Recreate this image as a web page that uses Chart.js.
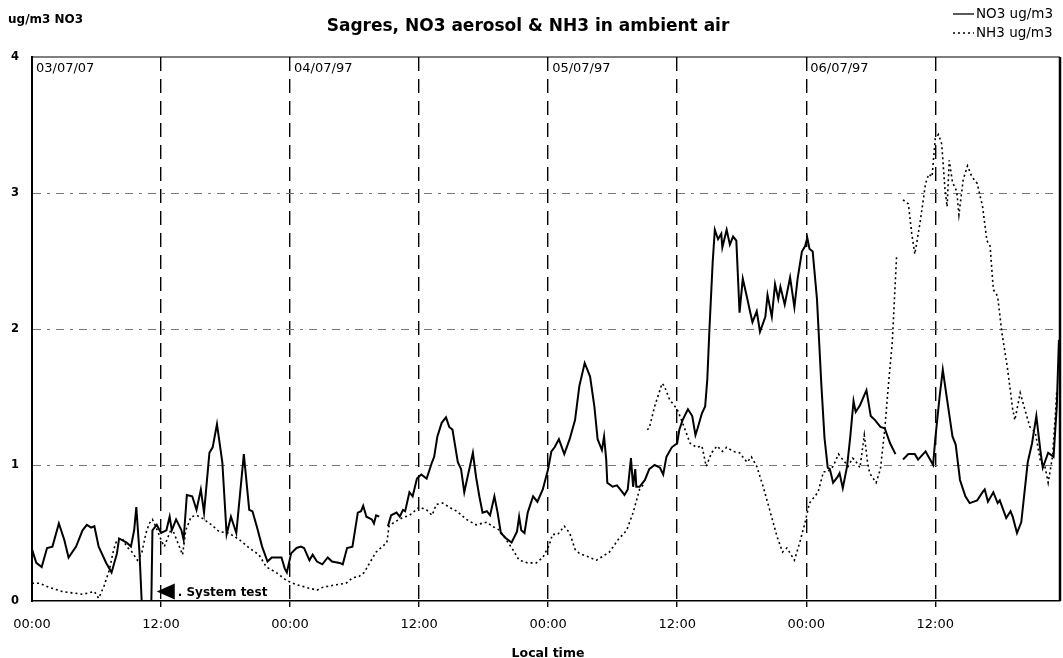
<!DOCTYPE html>
<html>
<head>
<meta charset="utf-8">
<title>Sagres, NO3 aerosol & NH3 in ambient air</title>
<script src="https://cdn.jsdelivr.net/npm/chart.js@4.4.1/dist/chart.umd.min.js"></script>
<style>
    html, body { margin: 0; padding: 0; background: #fff; }
    #wrap { width: 1063px; height: 658px; }
</style>
</head>
<body>
<div id="wrap"><canvas id="airChart" width="1063" height="658"></canvas></div>
<script>
// hours since 03/07 00:00 local time, values in ug/m3 (null = no data)
const no3Hours = [
    0.0, 0.4, 0.9, 1.4, 1.9, 2.5, 3.0, 3.4, 4.1, 4.7,
    5.1, 5.5, 5.8, 6.2, 6.9, 7.4, 7.9, 8.1, 8.8, 9.2,
    9.5, 9.7, 10.0, 10.2, 11.1, 11.2, 11.6, 12.0, 12.5, 12.8,
    13.0, 13.4, 13.9, 14.1, 14.4, 14.9, 15.3, 15.7, 16.0, 16.5,
    16.8, 17.2, 17.7, 18.1, 18.5, 19.0, 19.7, 20.2, 20.5, 20.9,
    21.4, 21.9, 22.3, 23.2, 23.5, 23.7, 24.1, 24.6, 25.0, 25.3,
    25.8, 26.1, 26.5, 27.0, 27.5, 27.9, 28.6, 28.9, 29.3, 29.8,
    30.3, 30.6, 30.8, 31.1, 31.6, 31.8, 32.0, 32.3, 32.7, 33.1,
    33.4, 33.9, 34.2, 34.5, 34.7, 35.1, 35.4, 35.8, 36.2, 36.7,
    37.2, 37.4, 37.7, 38.1, 38.5, 38.8, 39.1, 39.6, 39.9, 40.2,
    40.5, 41.0, 41.3, 41.6, 41.9, 42.3, 42.6, 43.0, 43.3, 43.6,
    44.1, 44.6, 45.1, 45.3, 45.5, 45.8, 46.1, 46.6, 47.0, 47.5,
    48.0, 48.3, 48.6, 49.0, 49.5, 50.0, 50.5, 50.9, 51.4, 51.9,
    52.3, 52.6, 53.0, 53.2, 53.4, 53.5, 54.0, 54.4, 54.7, 55.1,
    55.4, 55.7, 55.9, 56.1, 56.2, 56.5, 57.0, 57.4, 57.9, 58.4,
    58.7, 59.0, 59.5, 60.0, 60.2, 60.5, 61.0, 61.4, 61.7, 61.9,
    62.3, 62.6, 62.8, 63.0, 63.3, 63.5, 63.8, 64.1, 64.2, 64.6,
    64.9, 65.2, 65.5, 65.8, 66.1, 66.5, 66.8, 67.0, 67.4, 67.7,
    68.2, 68.4, 68.8, 69.1, 69.4, 69.6, 70.0, 70.5, 70.9, 71.2,
    71.6, 71.9, 72.1, 72.3, 72.6, 73.0, 73.4, 73.7, 74.0, 74.2,
    74.5, 74.9, 75.1, 75.4, 75.8, 76.1, 76.4, 76.6, 77.0, 77.6,
    78.0, 78.4, 78.9, 79.3, 79.8, 80.3, 80.6, 81.0, 81.5, 82.1,
    82.4, 83.1, 83.8, 84.0, 84.4, 84.7, 85.1, 85.6, 85.9, 86.3,
    86.8, 87.2, 87.9, 88.4, 88.6, 88.9, 89.4, 89.8, 90.0, 90.6,
    91.0, 91.2, 91.6, 92.0, 92.6, 93.0, 93.4, 93.8, 94.0, 94.5,
    95.0, 95.3, 95.5
];
const no3Values = [
    0.38, 0.28, 0.25, 0.39, 0.40, 0.57, 0.45, 0.32, 0.40, 0.52,
    0.56, 0.54, 0.55, 0.40, 0.28, 0.21, 0.35, 0.46, 0.43, 0.40,
    0.52, 0.69, 0.35, 0.00, 0.00, 0.52, 0.56, 0.50, 0.52, 0.62,
    0.52, 0.60, 0.52, 0.45, 0.78, 0.77, 0.67, 0.82, 0.65, 1.09,
    1.13, 1.30, 1.02, 0.49, 0.62, 0.50, 1.08, 0.67, 0.66, 0.55,
    0.40, 0.29, 0.32, 0.32, 0.24, 0.21, 0.35, 0.39, 0.40, 0.39,
    0.30, 0.34, 0.29, 0.27, 0.32, 0.29, 0.28, 0.27, 0.39, 0.40,
    0.65, 0.66, 0.70, 0.62, 0.60, 0.57, 0.63, 0.62, null, 0.55,
    0.63, 0.65, 0.62, 0.67, 0.66, 0.80, 0.77, 0.90, 0.93, 0.90,
    1.02, 1.06, 1.21, 1.31, 1.35, 1.28, 1.26, 1.02, 0.97, 0.80,
    0.91, 1.09, 0.91, 0.77, 0.65, 0.66, 0.63, 0.77, 0.65, 0.50,
    0.46, 0.43, 0.51, 0.62, 0.52, 0.50, 0.65, 0.77, 0.73, 0.82,
    0.97, 1.10, 1.13, 1.19, 1.08, 1.19, 1.33, 1.58, 1.75, 1.65,
    1.43, 1.19, 1.11, 1.21, 1.04, 0.87, 0.84, 0.85, 0.82, 0.78,
    0.82, 1.05, 0.84, 0.97, 0.84, 0.84, 0.89, 0.97, 1.00, 0.98,
    0.93, 1.06, 1.13, 1.16, 1.26, 1.33, 1.41, 1.36, 1.22, 1.27,
    1.38, 1.43, 1.63, 2.00, 2.49, 2.73, 2.66, 2.70, 2.60, 2.73,
    2.62, 2.68, 2.65, 2.12, 2.37, 2.23, 2.12, 2.05, 2.13, 1.98,
    2.09, 2.25, 2.09, 2.33, 2.22, 2.31, 2.18, 2.38, 2.16, 2.37,
    2.57, 2.61, 2.67, 2.59, 2.57, 2.22, 1.60, 1.20, 0.98, 0.97,
    0.87, 0.91, 0.94, 0.83, 0.99, 1.21, 1.47, 1.39, 1.44, 1.55,
    1.36, 1.33, 1.28, 1.27, 1.16, 1.08, null, 1.04, 1.08, 1.08,
    1.04, 1.10, 1.00, 1.19, 1.50, 1.70, 1.48, 1.21, 1.15, 0.89,
    0.77, 0.72, 0.74, 0.80, 0.82, 0.73, 0.80, 0.72, 0.74, 0.61,
    0.66, 0.62, 0.50, 0.58, 1.02, 1.16, 1.36, 1.09, 0.98, 1.09,
    1.06, 1.43, 1.92
];

const nh3Hours = [
    0.0, 0.7, 1.6, 2.8, 3.7, 4.7, 5.3, 5.8, 6.2, 6.7,
    7.2, 7.6, 7.9, 8.4, 8.8, 9.3, 9.8, 10.2, 10.6, 10.9,
    11.2, 11.5, 12.0, 12.3, 12.6, 13.0, 13.4, 14.0, 14.3, 14.8,
    15.3, 15.8, 16.7, 17.4, 18.3, 19.3, 20.2, 21.1, 21.8, 22.7,
    23.7, 24.6, 25.5, 26.5, 27.0, 28.3, 29.2, 29.8, 30.4, 30.9,
    31.4, 32.0, 33.0, 33.2, 33.7, 34.4, 35.1, 36.0, 36.7, 37.2,
    37.6, 38.2, 38.8, 39.5, 40.4, 41.3, 42.3, 42.8, 43.5, 44.1,
    44.7, 45.3, 46.1, 46.9, 47.5, 48.1, 48.4, 48.9, 49.5, 50.0,
    50.5, 50.9, 52.5, 53.7, 54.5, 55.3, 55.9, 56.5, 57.0, 57.1,
    57.2, 57.4, 57.9, 58.6, 58.8, 59.3, 60.0, 60.5, 61.2, 61.8,
    62.3, 62.7, 63.2, 63.7, 64.2, 64.6, 65.2, 65.8, 66.5, 66.9,
    67.4, 68.0, 68.6, 69.3, 69.8, 70.2, 70.9, 71.4, 71.9, 72.3,
    73.1, 73.6, 74.0, 74.5, 75.0, 75.4, 75.9, 76.3, 76.5, 77.0,
    77.4, 77.7, 77.9, 78.5, 78.9, 79.3, 79.6, 80.0, 80.4, 80.7,
    81.0, 81.5, 81.8, 82.1, 82.6, 83.1, 83.4, 83.7, 84.0, 84.3,
    84.6, 84.9, 85.1, 85.3, 85.6, 86.0, 86.2, 86.6, 87.0, 87.4,
    87.9, 88.4, 88.8, 89.1, 89.4, 89.8, 90.2, 90.7, 91.2, 91.4,
    91.9, 92.4, 92.8, 93.3, 93.8, 94.2, 94.5, 94.9, 95.2, 95.3
];
const nh3Values = [
    0.13, 0.13, 0.10, 0.07, 0.06, 0.05, 0.06, 0.07, 0.02, 0.11,
    0.23, 0.38, 0.45, 0.46, 0.40, 0.36, 0.30, 0.35, 0.50, 0.57,
    0.60, 0.55, 0.45, 0.40, 0.46, 0.54, 0.46, 0.34, 0.52, 0.62,
    0.63, 0.61, 0.56, 0.51, 0.50, 0.45, 0.39, 0.34, 0.25, 0.21,
    0.15, 0.12, 0.10, 0.08, 0.10, 0.12, 0.13, 0.17, 0.18, 0.21,
    0.28, 0.36, 0.43, 0.55, 0.58, 0.61, 0.63, 0.69, 0.67, 0.63,
    0.71, 0.72, 0.69, 0.66, 0.60, 0.56, 0.58, 0.55, 0.52, 0.45,
    0.38, 0.30, 0.28, 0.28, 0.32, 0.41, 0.49, 0.49, 0.55, 0.50,
    0.38, 0.35, 0.30, 0.36, 0.45, 0.52, 0.65, 0.82, 0.87, null,
    1.26, 1.27, 1.43, 1.60, 1.58, 1.48, 1.41, 1.31, 1.16, 1.13,
    1.14, 0.99, 1.09, 1.14, 1.10, 1.13, 1.10, 1.09, 1.02, 1.06,
    0.99, 0.84, 0.67, 0.47, 0.36, 0.39, 0.30, 0.43, 0.58, 0.72,
    0.80, 0.95, 0.95, 0.99, 1.08, 1.04, 0.99, 1.05, 1.04, 0.98,
    1.22, 1.02, 0.94, 0.87, 0.97, 1.26, 1.55, 1.90, 2.53, null,
    2.95, 2.92, 2.71, 2.55, 2.79, 3.07, 3.14, 3.12, 3.40, 3.43,
    3.36, 3.03, 2.90, 3.24, 3.08, 3.01, 2.84, 3.10, 3.20, 3.12,
    3.07, 2.90, 2.65, 2.61, 2.29, 2.24, 1.97, 1.72, 1.41, 1.33,
    1.53, 1.39, 1.28, 1.24, 1.02, 0.99, 0.87, 1.06, 1.41, 1.55
];

const xTickLabels = ['00:00', '12:00'];
const dayLabels = ['03/07/07', '04/07/97', '05/07/97', '06/07/97'];
const seriesNames = ['NO3 ug/m3', 'NH3 ug/m3'];
const chartTitle = 'Sagres, NO3 aerosol & NH3 in ambient air';
const yAxisTitle = 'ug/m3 NO3';
const xAxisTitle = 'Local time';
const testNote = '. System test';

Chart.defaults.font.family = '"DejaVu Sans", sans-serif';
Chart.defaults.color = '#000';

const toPoints = (hours, values) => hours.map((h, i) => ({ x: h, y: values[i] }));

// title, legend, day labels, frame and the note
const decorations = {
    id: 'decorations',
    afterDraw(chart) {
        const { ctx, chartArea: a, scales: { x, y } } = chart;
        ctx.save();

        ctx.strokeStyle = '#000';
        ctx.setLineDash([]);
        ctx.lineWidth = 1.2;
        ctx.beginPath();
        ctx.moveTo(a.left, a.top);
        ctx.lineTo(a.right, a.top);
        ctx.stroke();
        ctx.lineWidth = 2.5;
        ctx.beginPath();
        ctx.moveTo(a.right, a.top);
        ctx.lineTo(a.right, a.bottom);
        ctx.stroke();

        ctx.fillStyle = '#000';
        ctx.textBaseline = 'alphabetic';
        ctx.textAlign = 'center';
        ctx.font = 'bold 17px "DejaVu Sans"';
        ctx.fillText(chartTitle, 528, 31);

        ctx.textAlign = 'left';
        ctx.font = 'bold 12px "DejaVu Sans"';
        ctx.fillText(yAxisTitle, 8, 23);

        ctx.textAlign = 'center';
        ctx.font = 'bold 12.5px "DejaVu Sans"';
        ctx.fillText(xAxisTitle, 548, 657);

        // day labels
        ctx.textAlign = 'left';
        ctx.font = '13px "DejaVu Sans"';
        dayLabels.forEach((d, i) => {
            ctx.fillText(d, x.getPixelForValue(i * 24) + 4, 72);
        });

        // legend
        ctx.font = '13.5px "DejaVu Sans"';
        ctx.textBaseline = 'middle';
        ctx.lineWidth = 1.3;
        ctx.beginPath();
        ctx.moveTo(953, 14);
        ctx.lineTo(974, 14);
        ctx.stroke();
        ctx.fillText(seriesNames[0], 976, 14);
        ctx.setLineDash([2, 3]);
        ctx.beginPath();
        ctx.moveTo(953, 33);
        ctx.lineTo(974, 33);
        ctx.stroke();
        ctx.setLineDash([]);
        ctx.fillText(seriesNames[1], 976, 33);

        // system test arrow and note
        const tipX = x.getPixelForValue(11.6);
        const tipY = y.getPixelForValue(0.07);
        ctx.beginPath();
        ctx.moveTo(tipX, tipY);
        ctx.lineTo(tipX + 18, tipY - 8);
        ctx.lineTo(tipX + 18, tipY + 8);
        ctx.closePath();
        ctx.fill();
        ctx.font = 'bold 12px "DejaVu Sans"';
        ctx.fillText(testNote, tipX + 21, tipY + 1);

        ctx.restore();
    }
};

const ctx = document.getElementById('airChart');

new Chart(ctx, {
    type: 'line',
    data: {
        datasets: [
            {
                label: seriesNames[0],
                data: toPoints(no3Hours, no3Values),
                borderColor: '#000',
                borderWidth: 2,
                pointRadius: 0,
                tension: 0,
                spanGaps: false
            },
            {
                label: seriesNames[1],
                data: toPoints(nh3Hours, nh3Values),
                borderColor: '#000',
                borderWidth: 1.6,
                borderDash: [2, 3],
                pointRadius: 0,
                tension: 0,
                spanGaps: false
            }
        ]
    },
    options: {
        responsive: false,
        animation: false,
        devicePixelRatio: 1,
        layout: { padding: { top: 57, right: 3, left: 0, bottom: 0 } },
        plugins: {
            legend: { display: false },
            tooltip: { enabled: false }
        },
        scales: {
            x: {
                type: 'linear',
                min: 0,
                max: 95.6,
                afterFit: (s) => { s.height = 57; },
                ticks: {
                    stepSize: 12,
                    includeBounds: false,
                    autoSkip: false,
                    maxRotation: 0,
                    padding: 10,
                    font: { size: 13 },
                    callback: (v) => xTickLabels[Math.round(v / 12) % 2]
                },
                grid: {
                    color: (c) => (c.tick && c.tick.value === 0 ? 'rgba(0,0,0,0)' : '#000'),
                    lineWidth: 1.4,
                    tickLength: 6
                },
                border: { color: '#000', width: 1.6, dash: [14, 8] }
            },
            y: {
                min: 0,
                max: 4,
                afterFit: (s) => { s.width = 32; },
                ticks: {
                    stepSize: 1,
                    padding: 13,
                    font: { size: 11.5, weight: 'bold' }
                },
                grid: {
                    color: (c) => (c.tick && c.tick.value > 0 && c.tick.value < 4 ? '#777' : 'rgba(0,0,0,0)'),
                    lineWidth: 1,
                    drawTicks: false
                },
                border: { color: '#000', width: 2, dash: [8, 6, 3, 6] }
            }
        }
    },
    plugins: [decorations]
});
</script>
</body>
</html>
